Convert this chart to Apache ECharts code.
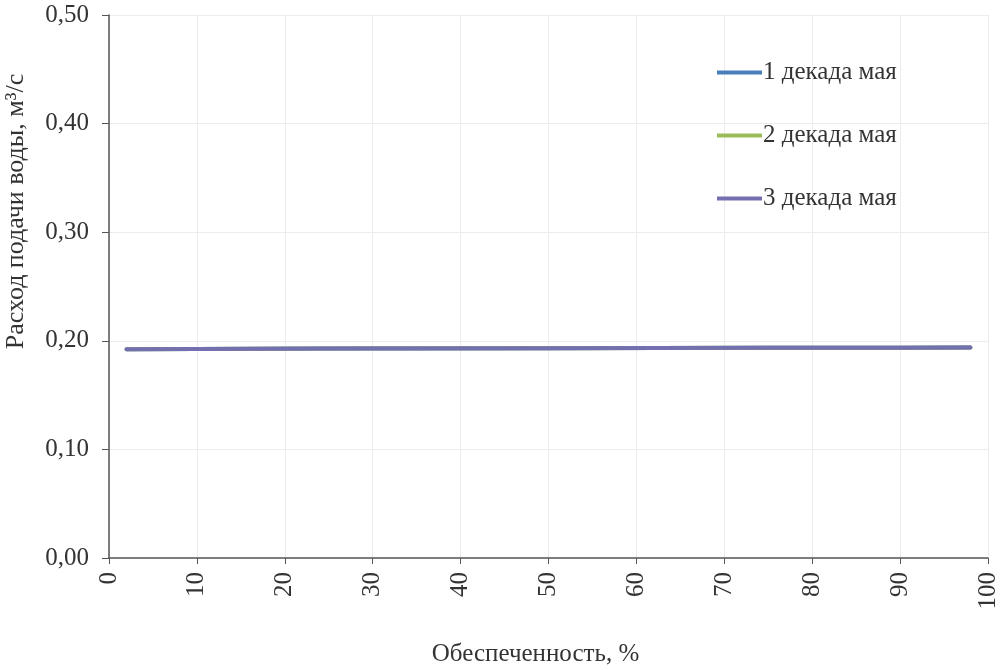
<!DOCTYPE html>
<html>
<head>
<meta charset="utf-8">
<script src="https://cdn.jsdelivr.net/npm/echarts@6/dist/echarts.min.js"></script>
<style>html,body{margin:0;padding:0;background:#fff}#c{width:1008px;height:670px}</style>
</head>
<body>
<div id="c"></div>
<script>
const seriesNames = ['1 декада мая', '2 декада мая', '3 декада мая'];
const probability = [2, 10, 25, 50, 75, 90, 98];
const decade1 = [0.1922, 0.1925, 0.1928, 0.1932, 0.1935, 0.1937, 0.1938];
const decade2 = [0.1922, 0.1925, 0.1928, 0.1932, 0.1935, 0.1937, 0.1938];
const decade3 = [0.1922, 0.1925, 0.1928, 0.1932, 0.1935, 0.1937, 0.1938];
const colors = ['#4A7EBB', '#9BBB59', '#7470B0'];

const allValues = [decade1, decade2, decade3];
const font = '"Liberation Serif", "DejaVu Serif", serif';
const chart = echarts.init(document.getElementById('c'));
chart.setOption({
  animation: false,
  grid: {left: 109, right: 20, top: 15, bottom: 112, outerBoundsMode: 'none', containLabel: false},
  legend: {
    orient: 'vertical', left: 712, top: 55, itemGap: 38,
    itemWidth: 45, itemHeight: 4,
    icon: 'rect',
    textStyle: {fontFamily: font, fontSize: 25, color: '#333', padding: [0,0,0,-4]},
    data: seriesNames
  },
  xAxis: {
    type: 'value', min: 0, max: 100, interval: 10,
    name: 'Обеспеченность, %', nameLocation: 'middle', nameGap: 84,
    nameTextStyle: {fontFamily: font, fontSize: 25, color: '#333', padding: [0, 26, 0, 0]},
    axisLine: {lineStyle: {color: '#555', width: 1.5}},
    axisTick: {show: true, length: 6, lineStyle: {color: '#555'}},
    axisLabel: {rotate: 90, fontFamily: font, fontSize: 25, color: '#333', margin: 14},
    splitLine: {show: true, lineStyle: {color: '#ececec', width: 1}}
  },
  yAxis: {
    type: 'value', min: 0, max: 0.5, interval: 0.1,
    name: 'Расход подачи воды, м³/с', nameLocation: 'middle', nameGap: 80,
    nameTextStyle: {fontFamily: font, fontSize: 26, color: '#333', padding: [0, 0, 0, 150]},
    axisLine: {show: true, lineStyle: {color: '#555', width: 1.5}},
    axisTick: {show: true, length: 7, lineStyle: {color: '#555'}},
    axisLabel: {fontFamily: font, fontSize: 25, color: '#333', margin: 20,
      formatter: v => v.toFixed(2).replace('.', ',')},
    splitLine: {show: true, lineStyle: {color: '#ececec', width: 1}}
  },
  series: seriesNames.map((n, i) => ({
    name: n, type: 'line', showSymbol: false, symbol: 'none',
    data: probability.map((p, k) => [p, allValues[i][k]]),
    lineStyle: {color: colors[i], width: 4, cap: 'round'},
    itemStyle: {color: colors[i]},
    z: 2 + i
  }))
});
</script>
</body>
</html>
